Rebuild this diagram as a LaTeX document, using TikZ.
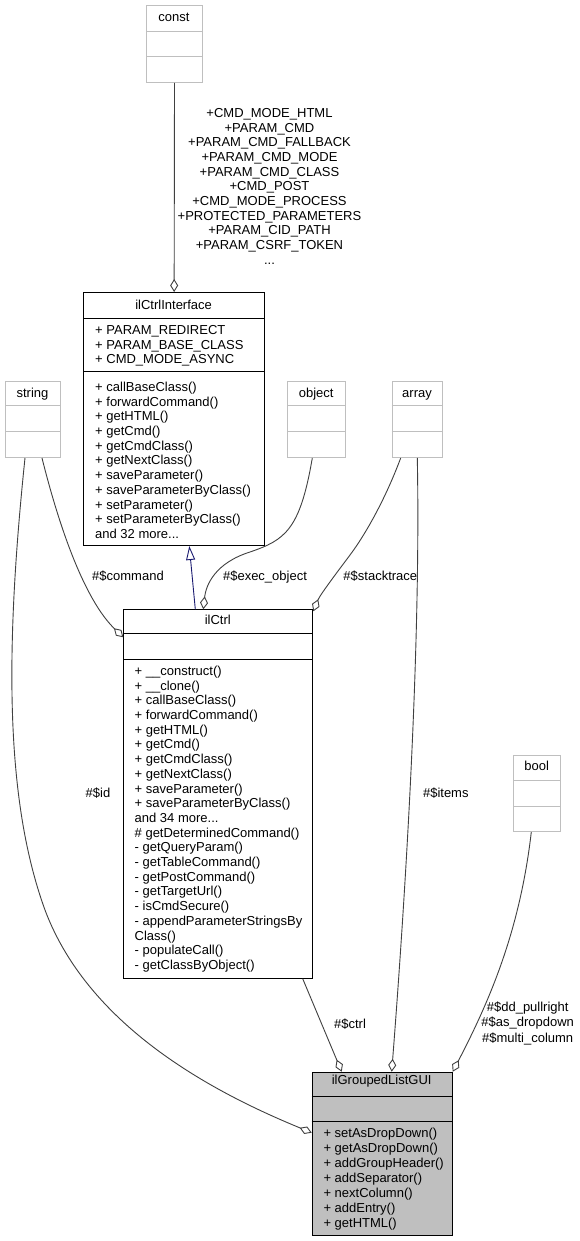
\documentclass[tikz,border=0pt]{standalone}
\usepackage{fontspec}
\setmainfont{Liberation Sans}
\usetikzlibrary{arrows.meta}
\definecolor{edgegray}{HTML}{404040}
\definecolor{boxgray}{HTML}{BFBFBF}
\definecolor{navyblue}{HTML}{191970}
\tikzset{
  txt/.style={font=\fontsize{13}{14.7}\selectfont, inner sep=0pt},
  lbl/.style={txt, anchor=base},
  members/.style={txt, align=left, anchor=north west},
  edgelbl/.style={font=\fontsize{13}{14.67}\selectfont, inner sep=0pt, align=center, anchor=north},
  graybox/.style={draw=boxgray, line width=1pt, inner sep=0pt, anchor=north west, fill=white},
  blackbox/.style={draw=black, line width=1pt, inner sep=0pt, anchor=north west, fill=white},
  grayrule/.style={draw=boxgray, line width=1pt},
  blackrule/.style={draw=black, line width=1pt},
  assoc/.style={draw=edgegray, line width=0.9pt, -{Diamond[open, length=13pt, width=8pt]}},
  inherit/.style={draw=navyblue, line width=0.9pt, -{Triangle[open, length=14pt, width=9pt]}}
}
\begin{document}
\begin{tikzpicture}[x=1pt,y=-1pt]
\useasboundingbox (0,0) rectangle (579,1241);
\fill[white] (0,0) rectangle (579,1241);

% const
\node[graybox, minimum width=56pt, minimum height=77pt] (const) at (146,5) {};
\draw[grayrule] (146,31.7) -- (202,31.7) (146,56.7) -- (202,56.7);
\node[lbl] (constT) at (174,21.4) {const};

% ilCtrlInterface
\node[blackbox, minimum width=180.7pt, minimum height=253pt] (iface) at (83.3,292) {};
\draw[blackrule] (83.3,318) -- (264,318) (83.3,371.7) -- (264,371.7);
\node[lbl] (ifaceT) at (173.6,309.6) {ilCtrlInterface};
\node[members] (ifaceA) at (95,325.3) {+ PARAM\_REDIRECT\\+ PARAM\_BASE\_CLASS\\+ CMD\_MODE\_ASYNC};
\node[members] (ifaceM) at (95,381.8) {+ callBaseClass()\\+ forwardCommand()\\+ getHTML()\\+ getCmd()\\+ getCmdClass()\\+ getNextClass()\\+ saveParameter()\\+ saveParameterByClass()\\+ setParameter()\\+ setParameterByClass()\\and 32 more...};

% string
\node[graybox, minimum width=55pt, minimum height=76pt] (string) at (5,381) {};
\draw[grayrule] (5,405.7) -- (60,405.7) (5,431) -- (60,431);
\node[lbl] (stringT) at (32.5,397.5) {string};

% object
\node[graybox, minimum width=57.7pt, minimum height=76pt] (object) at (287.3,381) {};
\draw[grayrule] (287.3,405.7) -- (345,405.7) (287.3,431) -- (345,431);
\node[lbl] (objectT) at (316.2,397.5) {object};

% array
\node[graybox, minimum width=50.6pt, minimum height=76pt] (array) at (391.7,381) {};
\draw[grayrule] (391.7,405.7) -- (442.3,405.7) (391.7,431) -- (442.3,431);
\node[lbl] (arrayT) at (417,397.5) {array};

% ilCtrl
\node[blackbox, minimum width=189pt, minimum height=368.4pt] (ctrl) at (123.3,609.3) {};
\draw[blackrule] (123.3,633.3) -- (312.3,633.3) (123.3,659.3) -- (312.3,659.3);
\node[lbl] (ctrlT) at (217.8,624.6) {ilCtrl};
\node[members] (ctrlM) at (134.5,665.8) {+ \_\_construct()\\+ \_\_clone()\\+ callBaseClass()\\+ forwardCommand()\\+ getHTML()\\+ getCmd()\\+ getCmdClass()\\+ getNextClass()\\+ saveParameter()\\+ saveParameterByClass()\\and 34 more...\\\# getDeterminedCommand()\\- getQueryParam()\\- getTableCommand()\\- getPostCommand()\\- getTargetUrl()\\- isCmdSecure()\\- appendParameterStringsBy\\Class()\\- populateCall()\\- getClassByObject()};

% bool
\node[graybox, minimum width=46.7pt, minimum height=76pt] (bool) at (513.3,755) {};
\draw[grayrule] (513.3,780.7) -- (560,780.7) (513.3,806) -- (560,806);
\node[lbl] (boolT) at (536.7,770.4) {bool};

% ilGroupedListGUI
\node[draw=black, line width=1pt, inner sep=0pt, anchor=north west, fill=boxgray, minimum width=140pt, minimum height=163.3pt] (glist) at (311.7,1071.7) {};
\draw[blackrule] (311.7,1096.7) -- (451.7,1096.7) (311.7,1121.7) -- (451.7,1121.7);
\node[lbl] (glistT) at (381.7,1084.6) {ilGroupedListGUI};
\node[members, font=\fontsize{13}{15}\selectfont] (glistM) at (323.3,1128.2) {+ setAsDropDown()\\+ getAsDropDown()\\+ addGroupHeader()\\+ addSeparator()\\+ nextColumn()\\+ addEntry()\\+ getHTML()};

% connectors
\draw[assoc] (const.south) -- (iface.north);
\node[edgelbl] (constL) at (269.5,108.3) {+CMD\_MODE\_HTML\\+PARAM\_CMD\\+PARAM\_CMD\_FALLBACK\\+PARAM\_CMD\_MODE\\+PARAM\_CMD\_CLASS\\+CMD\_POST\\+CMD\_MODE\_PROCESS\\+PROTECTED\_PARAMETERS\\+PARAM\_CID\_PATH\\+PARAM\_CSRF\_TOKEN\\...};

\draw[inherit] ([xshift=72pt]ctrl.north west) -- ([xshift=106pt]iface.south west);

\draw[assoc] ([xshift=37pt]string.south west) .. controls (60,530) and (85,600) .. ([yshift=-28pt]ctrl.north west);
\node[lbl] (cmdL) at (128,580.4) {\#\$command};

\draw[assoc] ([xshift=25pt]object.south west) .. controls (300,530) and (285,540) .. (250,552) .. controls (215,563) and (206,585) .. ([xshift=80pt]ctrl.north west);
\node[lbl] (execL) at (265,580.4) {\#\$exec\_object};

\draw[assoc] ([xshift=9pt]array.south west) .. controls (385,500) and (365,535) .. (350,555) .. controls (335,575) and (320,595) .. ([yshift=-2pt]ctrl.north east);
\node[lbl] (stackL) at (380.3,580.4) {\#\$stacktrace};

\draw[assoc] ([xshift=20pt]string.south west) .. controls (5,650) and (5,800) .. (45,910) .. controls (90,1030) and (220,1095) .. ([yshift=-61pt]glist.north west);
\node[lbl] (idL) at (98,797.4) {\#\$id};

\draw[assoc] ([xshift=25.6pt]array.south west) .. controls (421,650) and (405,900) .. ([xshift=80pt]glist.north west);
\node[lbl] (itemsL) at (445.8,797.4) {\#\$items};

\draw[assoc] ([xshift=-10.6pt]ctrl.south east) -- ([xshift=30pt]glist.north west);
\node[lbl] (ctrlL) at (350,1028.7) {\#\$ctrl};

\draw[assoc] ([xshift=18pt]bool.south west) .. controls (520,930) and (490,1000) .. (glist.north east);
\node[edgelbl, font=\fontsize{13}{15.6}\selectfont] (boolL) at (527.7,1001.5) {\#\$dd\_pullright\\\#\$as\_dropdown\\\#\$multi\_column};
\end{tikzpicture}
\end{document}
